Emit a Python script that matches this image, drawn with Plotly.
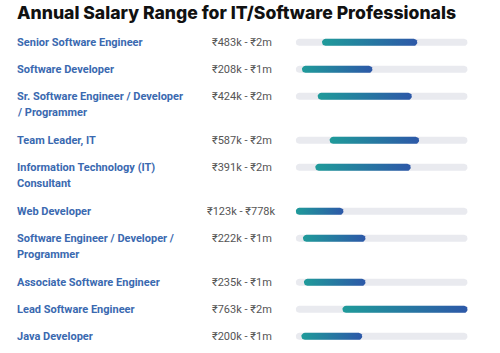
import numpy as np
import plotly.graph_objects as go

title = "Annual Salary Range for IT/Software Professionals"
jobs = [
    "Senior Software Engineer",
    "Software Developer",
    "Sr. Software Engineer / Developer<br>/ Programmer",
    "Team Leader, IT",
    "Information Technology (IT)<br>Consultant",
    "Web Developer",
    "Software Engineer / Developer /<br>Programmer",
    "Associate Software Engineer",
    "Lead Software Engineer",
    "Java Developer",
]
min_k = [483, 208, 424, 587, 391, 123, 222, 235, 763, 200]
max_k = [1790, 1175, 1715, 1815, 1700, 778, 1080, 1080, 2480, 1035]
range_labels = [
    "₹483k - ₹2m", "₹208k - ₹1m", "₹424k - ₹2m", "₹587k - ₹2m", "₹391k - ₹2m",
    "₹123k - ₹778k", "₹222k - ₹1m", "₹235k - ₹1m", "₹763k - ₹2m", "₹200k - ₹1m",
]

W, H = 500, 353
x_lo, x_hi = min(min_k), max(max_k)
px_left, px_right = 295.7, 467.7
px_per_unit = (px_right - px_left) / (x_hi - x_lo)

# row positions (pixel-like y units) derived from number of label lines
first_y, step, extra = 42.3, 27.0, 17.0
row_y = []
y = first_y
for j in jobs:
    row_y.append(y)
    y += step + extra * (len(j.split("<br>")) - 1)

bar_h_px = 7.0
r_y = bar_h_px / 2
r_x = r_y / px_per_unit


def pill(x0, x1, yc):
    t1 = np.linspace(-np.pi / 2, np.pi / 2, 14)
    t2 = np.linspace(np.pi / 2, 3 * np.pi / 2, 14)
    xr = x1 - r_x + r_x * np.cos(t1)
    yr = yc + r_y * np.sin(t1)
    xl = x0 + r_x + r_x * np.cos(t2)
    yl = yc + r_y * np.sin(t2)
    xs = np.concatenate([xr, xl, xr[:1]])
    ys = np.concatenate([yr, yl, yr[:1]])
    return xs.tolist(), ys.tolist()


fig = go.Figure()

# grey tracks
tx, ty = [], []
for yc in row_y:
    xs, ys = pill(x_lo, x_hi, yc)
    tx += xs + [None]
    ty += ys + [None]
fig.add_trace(go.Scatter(x=tx, y=ty, mode="lines", fill="toself",
                         fillcolor="#e9eaef", line=dict(width=0),
                         hoverinfo="skip", showlegend=False))

# gradient bars
for lo, hi, yc in zip(min_k, max_k, row_y):
    xs, ys = pill(lo, hi, yc)
    fig.add_trace(go.Scatter(
        x=xs, y=ys, mode="lines", fill="toself", line=dict(width=0),
        fillgradient=dict(type="horizontal",
                          colorscale=[[0, "#1f9b9a"], [1, "#2d58a8"]]),
        hoverinfo="skip", showlegend=False))

annotations = []
label_font = dict(family="Roboto, Arial, sans-serif", size=11, color="#3a69b0",
                  weight=700)
for j, yc, rl in zip(jobs, row_y, range_labels):
    for k, line in enumerate(j.split("<br>")):
        annotations.append(dict(
            text=line, x=15 / W, xref="paper", xanchor="left",
            y=yc + k * 16.5, yref="y", yanchor="middle", showarrow=False,
            font=label_font))
    annotations.append(dict(
        text=rl, x=241.5 / W, xref="paper", xanchor="center",
        y=yc, yref="y", yanchor="middle", showarrow=False,
        font=dict(family="Roboto, Arial, sans-serif", size=11, color="#555555")))

annotations.append(dict(
    text=title, x=15 / W, xref="paper", xanchor="left",
    y=12, yref="y", yanchor="middle", showarrow=False,
    font=dict(family="Inter, Roboto, Arial, sans-serif", size=17.6,
              color="#111111", weight=800)))

fig.update_layout(
    width=W, height=H, margin=dict(l=0, r=0, t=0, b=0),
    paper_bgcolor="white", plot_bgcolor="white",
    xaxis=dict(range=[x_lo, x_hi], domain=[px_left / W, px_right / W],
               visible=False, fixedrange=True),
    yaxis=dict(range=[H, 0], domain=[0, 1], visible=False, fixedrange=True),
    annotations=annotations,
)

fig.write_html("out.html")
